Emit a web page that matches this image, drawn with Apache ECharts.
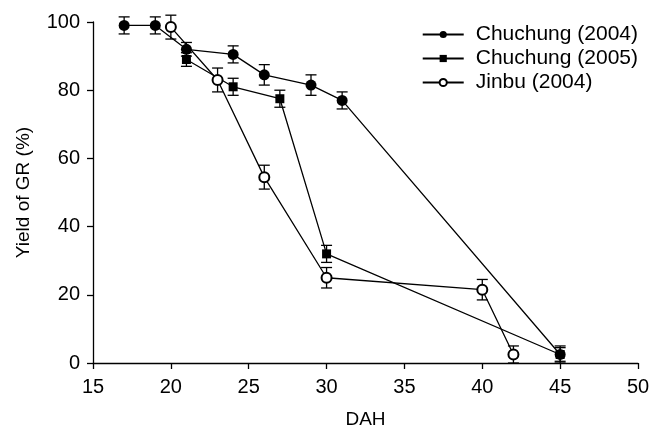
<!DOCTYPE html>
<html>
<head>
<meta charset="utf-8">
<script src="https://cdn.jsdelivr.net/npm/echarts@6/dist/echarts.min.js"></script>
<style>
  html, body { margin: 0; padding: 0; background: #fff; }
  #chart { width: 653px; height: 434px; }
</style>
</head>
<body>
<div id="chart"></div>
<script>
// 数据：DAH 与 GR 收率 (%)
const chu04X = [17, 19, 21, 24, 26, 29, 31, 45];
const chu04Y = [99, 99, 92, 90.5, 84.5, 81.5, 77, 2.5];
const chu04Err = [2.5, 2.5, 2, 2.5, 3, 3, 2.5, 2];

const chu05X = [21, 24, 27, 30, 45];
const chu05Y = [89, 81, 77.5, 32, 2.5];
const chu05Err = [2, 2.5, 2.5, 2.5, 2.5];

const jinX = [20, 23, 26, 30, 40, 42];
const jinY = [98.5, 83, 54.5, 25, 21.5, 2.5];
const jinErr = [3.5, 3.5, 3.5, 3, 3, 2.5];

const xTicks = [15, 50, 5];
const yTicks = [0, 100, 20];

const font = 'Liberation Sans, Arial, sans-serif';

function pairs(xs, ys) {
    return xs.map((x, i) => [x, ys[i]]);
}
function errRows(xs, ys, es) {
    return xs.map((x, i) => [x, ys[i] - es[i], ys[i] + es[i]]);
}

const errData = []
    .concat(errRows(chu04X, chu04Y, chu04Err))
    .concat(errRows(chu05X, chu05Y, chu05Err))
    .concat(errRows(jinX, jinY, jinErr));

function renderErr(params, api) {
    const lo = api.coord([api.value(0), api.value(1)]);
    const hi = api.coord([api.value(0), api.value(2)]);
    const w = 5.5;
    const style = { stroke: '#000', lineWidth: 1.3 };
    return {
        type: 'group',
        children: [
            { type: 'line', shape: { x1: lo[0], y1: lo[1], x2: hi[0], y2: hi[1] }, style: style },
            { type: 'line', shape: { x1: lo[0] - w, y1: lo[1], x2: lo[0] + w, y2: lo[1] }, style: style },
            { type: 'line', shape: { x1: hi[0] - w, y1: hi[1], x2: hi[0] + w, y2: hi[1] }, style: style }
        ]
    };
}

const chart = echarts.init(document.getElementById('chart'));

const lineStyle = { color: '#000', width: 1.3 };

const option = {
    animation: false,
    backgroundColor: '#fff',
    textStyle: { fontFamily: font },
    grid: { left: 93, right: 15, top: 22, bottom: 66 },
    legend: {
        orient: 'vertical',
        right: 15,
        top: 24,
        itemWidth: 41,
        itemHeight: 9,
        itemGap: 3,
        padding: 0,
        textStyle: { fontFamily: font, fontSize: 21, color: '#000', lineHeight: 21, padding: [0, 0, 0, 7] },
        data: ['Chuchung (2004)', 'Chuchung (2005)', 'Jinbu (2004)']
    },
    xAxis: {
        type: 'value',
        min: xTicks[0],
        max: xTicks[1],
        interval: xTicks[2],
        name: 'DAH',
        nameLocation: 'middle',
        nameGap: 47,
        nameTextStyle: { fontFamily: font, fontSize: 19, color: '#000' },
        axisLine: { lineStyle: { color: '#000', width: 1.3 } },
        axisTick: { inside: false, length: 6, lineStyle: { color: '#000', width: 1.3 } },
        axisLabel: { fontFamily: font, fontSize: 20, color: '#000', margin: 14 },
        splitLine: { show: false }
    },
    yAxis: {
        type: 'value',
        min: yTicks[0],
        max: yTicks[1],
        interval: yTicks[2],
        name: 'Yield of GR (%)',
        nameLocation: 'middle',
        nameGap: 60,
        nameTextStyle: { fontFamily: font, fontSize: 19, color: '#000' },
        axisLine: { show: true, lineStyle: { color: '#000', width: 1.3 } },
        axisTick: { show: true, length: 6, lineStyle: { color: '#000', width: 1.3 } },
        axisLabel: { fontFamily: font, fontSize: 20, color: '#000', margin: 13 },
        splitLine: { show: false }
    },
    series: [
        {
            type: 'custom',
            name: 'err',
            renderItem: renderErr,
            data: errData,
            z: 1,
            silent: true
        },
        {
            name: 'Chuchung (2004)',
            type: 'line',
            data: pairs(chu04X, chu04Y),
            symbol: 'circle',
            symbolSize: 11,
            itemStyle: { color: '#000' },
            lineStyle: lineStyle,
            z: 3
        },
        {
            name: 'Chuchung (2005)',
            type: 'line',
            data: pairs(chu05X, chu05Y),
            symbol: 'rect',
            symbolSize: 9,
            itemStyle: { color: '#000' },
            lineStyle: lineStyle,
            z: 3
        },
        {
            name: 'Jinbu (2004)',
            type: 'line',
            data: pairs(jinX, jinY),
            symbol: 'emptyCircle',
            symbolSize: 10,
            itemStyle: { color: '#000', borderColor: '#000', borderWidth: 1.2 },
            lineStyle: lineStyle,
            z: 3
        }
    ]
};

chart.setOption(option);
</script>
</body>
</html>
